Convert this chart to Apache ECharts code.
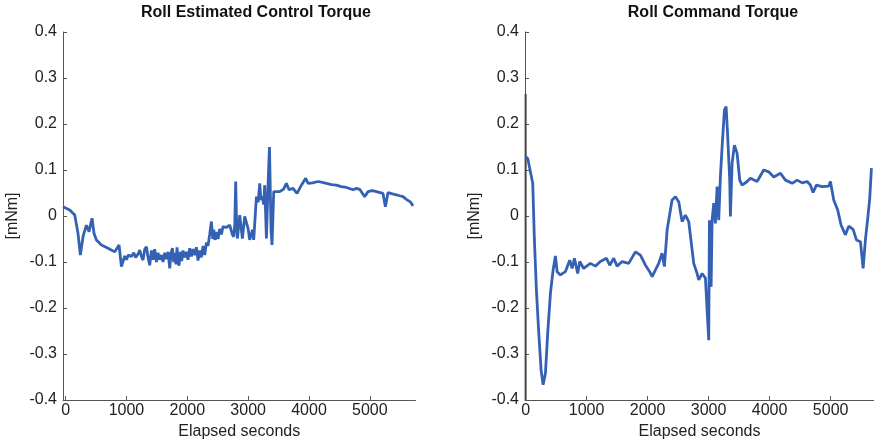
<!DOCTYPE html>
<html>
<head>
<meta charset="utf-8">
<script src="https://cdn.jsdelivr.net/npm/echarts@6/dist/echarts.min.js"></script>
<style>
  html, body { margin: 0; padding: 0; background: #fff; }
  #chart { width: 874px; height: 445px; }
</style>
</head>
<body>
<div id="chart"></div>
<script>
// Roll estimated control torque [mNm] vs elapsed seconds
const estTime = [-43, 67, 150, 204, 242, 286, 341, 385, 434, 467, 506, 588, 697, 807, 878, 917, 971,
  1000, 1030, 1081, 1120, 1150, 1190, 1218, 1246, 1272, 1300, 1328, 1354, 1382, 1410, 1436, 1464,
  1492, 1518, 1546, 1574, 1601, 1629, 1657, 1683, 1711, 1733, 1755, 1776, 1793, 1814, 1831, 1847,
  1864, 1887, 1908, 1929, 1957, 1985, 2011, 2039, 2067, 2094, 2122, 2150, 2176, 2204, 2231, 2258,
  2286, 2314, 2340, 2368, 2396, 2418, 2434, 2456, 2478, 2505, 2532, 2560, 2587, 2640, 2697, 2740,
  2763, 2780, 2795, 2810, 2823, 2861, 2905, 2943, 2998, 3025, 3070, 3091, 3136, 3165, 3190, 3210,
  3234, 3255, 3272, 3300, 3326, 3350, 3376, 3392, 3420, 3518, 3580, 3628, 3671, 3737, 3803, 3875,
  3946, 3984, 4060, 4148, 4220, 4286, 4370, 4450, 4530, 4615, 4723, 4780, 4833, 4915, 4970, 5040,
  5108, 5216, 5255, 5298, 5370, 5436, 5490, 5545, 5600, 5627, 5670, 5709];
const estTorque = [0.02, 0.013, 0.002, -0.038, -0.085, -0.045, -0.02, -0.034, -0.005, -0.038, -0.052,
  -0.063, -0.07, -0.078, -0.063, -0.11, -0.087,
  -0.095, -0.085, -0.088, -0.08, -0.09, -0.083, -0.074, -0.088, -0.096, -0.072, -0.067, -0.09,
  -0.107, -0.075, -0.095, -0.072, -0.1, -0.08, -0.095, -0.085, -0.1, -0.08, -0.094, -0.078,
  -0.114, -0.08, -0.07, -0.1, -0.08, -0.105, -0.068, -0.095, -0.108, -0.078, -0.098, -0.075,
  -0.09, -0.078, -0.095, -0.07, -0.088, -0.072, -0.085, -0.068, -0.097, -0.075, -0.09, -0.065,
  -0.085, -0.058, -0.065, -0.04, -0.012, -0.05, -0.03, -0.052, -0.035, -0.05, -0.028, -0.04,
  -0.023, -0.025, -0.02, -0.04, -0.045, -0.018, 0.075, -0.02, -0.049, 0.002, -0.049, -0.001,
  -0.027, -0.052, -0.03, -0.052, 0.042, 0.03, 0.071, 0.035, 0.042, 0.025, 0.067, -0.049, 0.064,
  0.15, -0.03, -0.063, 0.053, 0.053, 0.058, 0.071, 0.057, 0.06, 0.049, 0.067, 0.082, 0.071, 0.072,
  0.075, 0.073, 0.071, 0.068, 0.067, 0.064, 0.062, 0.057, 0.06, 0.058, 0.042, 0.053, 0.055, 0.053,
  0.049, 0.02, 0.051, 0.048, 0.046, 0.044, 0.042, 0.036, 0.035, 0.03, 0.022];

// Roll command torque [mNm] vs elapsed seconds
const cmdTime = [0, 35, 67, 95, 117, 144, 177, 216, 254, 287, 325, 362, 407, 451, 489, 516, 570, 652,
  723, 762, 800, 854, 887, 952, 1062, 1144, 1226, 1325, 1379, 1444, 1500, 1582, 1690, 1800, 1882,
  1964, 2034, 2074, 2182, 2237, 2275, 2320, 2401, 2456, 2510, 2565, 2620, 2674, 2756, 2811, 2838,
  2893, 2948, 2975, 3002, 3013, 3041, 3057, 3084, 3111, 3139, 3166, 3193, 3221, 3259, 3287, 3313,
  3346, 3357, 3385, 3423, 3467, 3510, 3549, 3631, 3685, 3795, 3903, 3985, 4067, 4177, 4259, 4369,
  4451, 4533, 4615, 4669, 4713, 4767, 4861, 4969, 4997, 5051, 5116, 5172, 5243, 5297, 5369, 5423,
  5489, 5533, 5570, 5608, 5641, 5669];
const cmdTorque = [0.129, 0.125, 0.104, 0.1, 0.071, -0.052, -0.161, -0.255, -0.335, -0.367, -0.342,
  -0.255, -0.168, -0.117, -0.087, -0.121, -0.128, -0.121, -0.096, -0.114, -0.092, -0.125, -0.099,
  -0.114, -0.103, -0.109, -0.099, -0.092, -0.107, -0.092, -0.109, -0.099, -0.103, -0.078, -0.085,
  -0.107, -0.121, -0.132, -0.103, -0.081, -0.11, -0.03, 0.035, 0.042, 0.031, -0.012, 0.002, -0.012,
  -0.103, -0.125, -0.139, -0.125, -0.135, -0.204, -0.27, -0.009, -0.154, -0.009, 0.028, -0.016,
  0.064, -0.009, 0.085, 0.15, 0.23, 0.238, 0.172, 0.078, -0.001, 0.115, 0.154, 0.136, 0.078, 0.067,
  0.075, 0.082, 0.075, 0.1, 0.096, 0.085, 0.093, 0.078, 0.071, 0.078, 0.072, 0.075, 0.067, 0.051,
  0.067, 0.064, 0.065, 0.075, 0.035, 0.013, -0.02, -0.041, -0.022, -0.029, -0.052, -0.056, -0.114,
  -0.052, -0.005, 0.038, 0.104];

// Start-up transient of the command at t = 0
const cmdStartTime = [0, 0];
const cmdStartTorque = [-0.4, 0.265];

const xTicks = [0, 1000, 2000, 3000, 4000, 5000];
const titles = ['Roll Estimated Control Torque', 'Roll Command Torque'];

const pairs = (xs, ys) => xs.map((x, i) => [x, ys[i]]);

const FONT = 'Liberation Sans, Arial, sans-serif';
const LINE = '#3461b4';
const AXIS = '#555';

function xAxisFor(gridIndex, min, max) {
  return {
    type: 'value', gridIndex, min, max,
    name: 'Elapsed seconds', nameLocation: 'middle', nameGap: 22,
    nameTextStyle: { fontFamily: FONT, fontSize: 16, color: '#222' },
    axisLine: { show: true, onZero: false, lineStyle: { color: AXIS, width: 1 } },
    axisTick: { show: true, inside: true, length: 4, customValues: xTicks, lineStyle: { color: AXIS } },
    axisLabel: { customValues: xTicks, fontFamily: FONT, fontSize: 16, color: '#222', margin: 3,
      formatter: v => String(v) },
    splitLine: { show: false }
  };
}
function yAxisFor(gridIndex) {
  return {
    type: 'value', gridIndex, min: -0.4, max: 0.4, interval: 0.1,
    name: '[mNm]', nameLocation: 'middle', nameGap: 42, nameRotate: 90,
    nameTextStyle: { fontFamily: FONT, fontSize: 16, color: '#222' },
    axisLine: { show: true, onZero: false, lineStyle: { color: AXIS, width: 1 } },
    axisTick: { show: true, inside: true, length: 4, lineStyle: { color: AXIS } },
    axisLabel: { fontFamily: FONT, fontSize: 16, color: '#222', margin: 6,
      formatter: v => String(Math.round(v * 10) / 10) },
    splitLine: { show: false }
  };
}

const chart = echarts.init(document.getElementById('chart'), null, { renderer: 'canvas' });
chart.setOption({
  animation: false,
  backgroundColor: '#fff',
  title: [
    { text: titles[0], left: 251, top: 0, textAlign: 'center',
      textStyle: { fontFamily: FONT, fontSize: 16, fontWeight: 'bold', color: '#111' } },
    { text: titles[1], left: 708, top: 0, textAlign: 'center',
      textStyle: { fontFamily: FONT, fontSize: 16, fontWeight: 'bold', color: '#111' } }
  ],
  grid: [
    { left: 63, top: 32, width: 352.5, height: 368 },
    { left: 525, top: 32, width: 349, height: 368 }
  ],
  xAxis: [xAxisFor(0, -43, 5750), xAxisFor(1, -10, 5711)],
  yAxis: [yAxisFor(0), yAxisFor(1)],
  series: [
    { type: 'line', xAxisIndex: 0, yAxisIndex: 0, data: pairs(estTime, estTorque),
      showSymbol: false, lineStyle: { color: LINE, width: 2.8 }, z: 3 },
    { type: 'line', xAxisIndex: 1, yAxisIndex: 1, data: pairs(cmdStartTime, cmdStartTorque),
      showSymbol: false, lineStyle: { color: '#444', width: 2 }, z: 2 },
    { type: 'line', xAxisIndex: 1, yAxisIndex: 1, data: pairs(cmdTime, cmdTorque),
      showSymbol: false, lineStyle: { color: LINE, width: 2.8 }, z: 3 }
  ]
});
</script>
</body>
</html>
